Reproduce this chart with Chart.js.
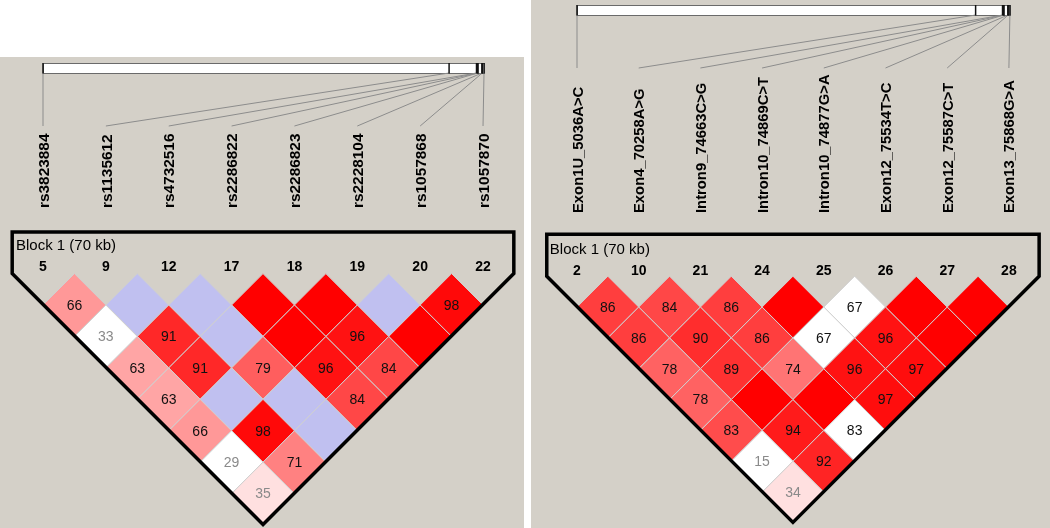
<!DOCTYPE html>
<html>
<head>
<meta charset="utf-8">
<script src="https://cdn.jsdelivr.net/npm/chart.js@4"></script>
<style>
body{margin:0;background:#fff;width:1050px;height:528px;position:relative;overflow:hidden;}
.panel{position:absolute;background:#d4d0c8;}
#izq{left:0;top:57px;width:524px;height:471px;}
#der{left:531px;top:0;width:519px;height:528px;}
canvas{display:block;}
</style>
</head>
<body>
<div class="panel" id="izq"><canvas id="ldIzq" width="524" height="471"></canvas></div>
<div class="panel" id="der"><canvas id="ldDer" width="519" height="528"></canvas></div>
<script>
// posiciones fisicas (pb) de los 8 marcadores
const posiciones = [5036, 70258, 74663, 74869, 74877, 75534, 75587, 75868];

const marcadoresIzq = ['rs3823884','rs1135612','rs4732516','rs2286822','rs2286823','rs2228104','rs1057868','rs1057870'];
const numerosIzq = ['5','9','12','17','18','19','20','22'];
// D' por fila (distancia 1..7); 100 = D' 1 (sin numero)
const dprimeIzq = [
  [66, 100, 100, 100, 100, 100, 98],
  [33, 91, 100, 100, 96, 100],
  [63, 91, 79, 96, 84],
  [63, 100, 100, 84],
  [66, 98, 100],
  [29, 71],
  [35]
];
// 1 = LOD >= 2
const lodIzq = [
  [1, 0, 0, 1, 1, 0, 1],
  [0, 1, 0, 1, 1, 1],
  [1, 1, 1, 1, 1],
  [1, 0, 0, 1],
  [1, 1, 0],
  [0, 1],
  [1]
];

const marcadoresDer = ['Exon1U_5036A>C','Exon4_70258A>G','Intron9_74663C>G','Intron10_74869C>T','Intron10_74877G>A','Exon12_75534T>C','Exon12_75587C>T','Exon13_75868G>A'];
const numerosDer = ['2','10','21','24','25','26','27','28'];
const dprimeDer = [
  [86, 84, 86, 100, 67, 100, 100],
  [86, 90, 86, 67, 96, 100],
  [78, 89, 74, 96, 97],
  [78, 100, 100, 97],
  [83, 94, 83],
  [15, 92],
  [34]
];
const lodDer = [
  [1, 1, 1, 1, 0, 1, 1],
  [1, 1, 1, 0, 1, 1],
  [1, 1, 1, 1, 1],
  [1, 1, 1, 1],
  [1, 1, 0],
  [0, 1],
  [1]
];

const tituloBloque = 'Block 1 (70 kb)';

function colorCelda(d, fuerte) {
  if (fuerte) {
    if (d < 50) return 'rgb(255,224,224)';
    const bg = Math.round(446 * (1 - d / 100));
    return 'rgb(255,' + bg + ',' + bg + ')';
  }
  if (d >= 100) return 'rgb(192,192,240)';
  return '#ffffff';
}

function celdas(dp, lod) {
  const pts = [];
  dp.forEach((fila, r) => fila.forEach((d, i) => {
    const j = i + r + 1;
    pts.push({x: (i + j) / 2, y: (j - i) / 2, d: d, lod: lod[r][i]});
  }));
  return pts;
}

const dibujoLD = {
  id: 'dibujoLD',
  beforeDatasetsDraw(chart, args, o) {
    const ctx = chart.ctx, sx = chart.scales.x;
    const n = o.marcadores.length;
    const xs = o.marcadores.map((m, i) => sx.getPixelForValue(i));
    const bx0 = xs[0], bx1 = xs[n - 1] + 1;
    const p0 = o.posiciones[0], pN = o.posiciones[n - 1];
    const xFis = o.posiciones.map(p => bx0 + (p - p0) / (pN - p0) * (bx1 - bx0));
    const yb = o.barraY, yb2 = o.barraY + o.barraAlto;
    ctx.save();
    ctx.fillStyle = '#fff';
    ctx.fillRect(bx0, yb, bx1 - bx0, o.barraAlto);
    ctx.strokeStyle = '#6a6a6a';
    ctx.lineWidth = 1;
    ctx.strokeRect(bx0 + 0.5, yb + 0.5, bx1 - bx0, o.barraAlto);
    // lineas hacia las etiquetas
    ctx.strokeStyle = '#8c8c8c';
    xFis.forEach((xf, i) => {
      ctx.beginPath();
      ctx.moveTo(xf, yb2);
      ctx.lineTo(xs[i], o.lineaFin);
      ctx.stroke();
    });
    // marcas en la barra
    ctx.strokeStyle = '#111';
    ctx.lineWidth = 1.5;
    xFis.forEach(xf => {
      ctx.beginPath();
      ctx.moveTo(xf, yb);
      ctx.lineTo(xf, yb2 + 0.5);
      ctx.stroke();
    });
    // etiquetas verticales
    ctx.fillStyle = '#000';
    ctx.font = 'bold ' + o.tamEtiqueta + 'px "Liberation Sans", Arial, sans-serif';
    ctx.textAlign = 'left';
    ctx.textBaseline = 'middle';
    o.marcadores.forEach((m, i) => {
      ctx.save();
      ctx.translate(xs[i] + 1.5, o.etiquetaBase);
      ctx.rotate(-Math.PI / 2);
      ctx.fillText(m, 0, 0);
      ctx.restore();
    });
    ctx.restore();
  },
  afterDatasetsDraw(chart, args, o) {
    const ctx = chart.ctx, sx = chart.scales.x, sy = chart.scales.y;
    const n = o.marcadores.length;
    const meta = chart.getDatasetMeta(0);
    ctx.save();
    ctx.font = '14px "Liberation Sans", Arial, sans-serif';
    ctx.textAlign = 'center';
    ctx.textBaseline = 'middle';
    meta.data.forEach((el, k) => {
      const c = chart.data.datasets[0].data[k];
      if (c.d >= 100) return;
      ctx.fillStyle = c.d < 50 ? '#8a8a8a' : '#111';
      ctx.fillText(String(c.d), el.x, el.y + 1);
    });
    // contorno del bloque
    const m = o.margen, mid = (n - 1) / 2;
    const P = (u, v) => [sx.getPixelForValue(u), sy.getPixelForValue(v)];
    const contorno = [[-m, o.bloqueTop], [n - 1 + m, o.bloqueTop], [n - 1 + m, 0], [mid, mid + m], [-m, 0]];
    ctx.beginPath();
    contorno.forEach((q, i) => {
      const [px, py] = P(q[0], q[1]);
      if (i === 0) ctx.moveTo(px, py); else ctx.lineTo(px, py);
    });
    ctx.closePath();
    ctx.strokeStyle = '#000';
    ctx.lineWidth = 3.5;
    ctx.lineJoin = 'miter';
    ctx.stroke();
    // numeros de marcador
    ctx.fillStyle = '#000';
    ctx.font = 'bold 14px "Liberation Sans", Arial, sans-serif';
    o.numeros.forEach((t, i) => {
      const [px, py] = P(i, o.numeroY);
      ctx.fillText(t, px, py);
    });
    // titulo del bloque
    ctx.font = '15px "Liberation Sans", Arial, sans-serif';
    ctx.textAlign = 'left';
    const [tx, ty] = P(o.tituloX, o.tituloY);
    ctx.fillText(tituloBloque, tx, ty);
    ctx.restore();
  }
};

function graficarLD(id, dp, lod, marcadores, numeros, g) {
  const canvas = document.getElementById(id);
  const W = canvas.width, H = canvas.height;
  return new Chart(canvas, {
    type: 'scatter',
    data: {
      datasets: [{
        data: celdas(dp, lod),
        pointStyle: 'rectRot',
        pointRadius: c => Math.abs(c.chart.scales.x.getPixelForValue(0.5) - c.chart.scales.x.getPixelForValue(0)),
        pointBackgroundColor: c => colorCelda(c.raw.d, c.raw.lod),
        pointBorderColor: '#cfcfcf',
        pointBorderWidth: 1
      }]
    },
    options: {
      responsive: false,
      animation: false,
      events: [],
      layout: {padding: 0},
      scales: {
        x: {type: 'linear', display: false, min: -g.x0 / g.unidad, max: (W - g.x0) / g.unidad},
        y: {type: 'linear', display: false, reverse: true, min: -g.y0 / g.unidad, max: (H - g.y0) / g.unidad}
      },
      plugins: {
        legend: {display: false},
        tooltip: {enabled: false},
        dibujoLD: {
          marcadores: marcadores,
          numeros: numeros,
          posiciones: posiciones,
          barraY: g.barraY,
          barraAlto: 10,
          lineaFin: g.lineaFin,
          etiquetaBase: g.etiquetaBase,
          tamEtiqueta: g.tamEtiqueta,
          margen: 0.49,
          bloqueTop: g.bloqueTop,
          numeroY: g.numeroY,
          tituloX: g.tituloX,
          tituloY: g.tituloY
        }
      }
    },
    plugins: [dibujoLD]
  });
}

graficarLD('ldIzq', dprimeIzq, lodIzq, marcadoresIzq, numerosIzq, {
  x0: 43, y0: 216.6, unidad: 62.86,
  barraY: 6, lineaFin: 69, etiquetaBase: 151, tamEtiqueta: 15.4,
  bloqueTop: -0.66, numeroY: -0.1, tituloX: -0.43, tituloY: -0.44
});
graficarLD('ldDer', dprimeDer, lodDer, marcadoresDer, numerosDer, {
  x0: 46, y0: 276.2, unidad: 61.7,
  barraY: 5, lineaFin: 68, etiquetaBase: 213, tamEtiqueta: 14.8,
  bloqueTop: -0.68, numeroY: -0.09, tituloX: -0.44, tituloY: -0.42
});
</script>
</body>
</html>
